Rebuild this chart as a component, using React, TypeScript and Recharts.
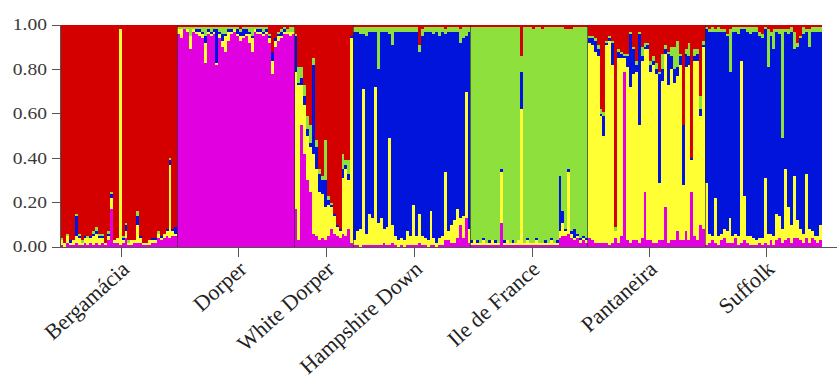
import React from 'react';
import { BarChart, Bar, XAxis, YAxis, ReferenceLine } from 'recharts';

const populations = ['Bergamácia', 'Dorper', 'White Dorper', 'Hampshire Down', 'Ile de France', 'Pantaneira', 'Suffolk'];
const clusterKeys = ['magenta', 'yellow', 'blue', 'green', 'red'];
const clusterColors = ['#E000E0', '#FFFF33', '#0014DC', '#8EE03C', '#D40000'];
const yTicks = [0, 0.2, 0.4, 0.6, 0.8, 1];

// each individual: [magenta, yellow, blue, green, red] in %
const bergamacia = [
  [1, 2, 0, 1, 96], [0, 2, 0, 0, 98], [2, 3, 0, 1, 94], [1, 1, 1, 0, 97], [1, 2, 0, 0, 97],
  [2, 3, 9, 1, 85], [1, 3, 1, 1, 94], [1, 1, 0, 1, 97], [2, 2, 1, 0, 95], [1, 3, 0, 1, 95],
  [2, 2, 1, 0, 95], [1, 4, 1, 1, 93], [2, 4, 1, 2, 91], [1, 3, 1, 1, 94], [2, 2, 1, 1, 94],
  [1, 1, 0, 0, 98], [3, 2, 1, 1, 93], [17, 5, 2, 1, 75], [2, 1, 0, 0, 97], [2, 2, 0, 0, 96],
  [1, 97, 0, 0, 2], [2, 1, 1, 1, 95], [4, 3, 3, 1, 89], [1, 1, 0, 1, 97], [1, 2, 0, 0, 97],
  [2, 1, 0, 0, 97], [2, 8, 4, 2, 84], [2, 2, 1, 0, 95], [1, 1, 0, 0, 98], [1, 1, 0, 0, 98],
  [1, 2, 0, 0, 97], [2, 1, 1, 0, 96], [2, 1, 1, 0, 96], [4, 2, 0, 1, 93], [3, 1, 1, 0, 95],
  [4, 2, 0, 0, 94], [5, 2, 1, 0, 92], [4, 33, 2, 1, 60], [5, 2, 1, 0, 92], [5, 1, 3, 0, 91],
];

const dorper = [
  [96, 2, 0, 1, 1], [94, 4, 0, 1, 1], [98, 0, 0, 1, 1], [97, 1, 0, 1, 1], [89, 6, 0, 4, 1],
  [97, 1, 0, 1, 1], [96, 1, 1, 1, 1], [95, 2, 1, 1, 1], [94, 2, 1, 2, 1], [83, 9, 3, 4, 1],
  [96, 1, 1, 1, 1], [95, 1, 1, 2, 1], [96, 1, 1, 1, 1], [82, 1, 15, 1, 1], [94, 2, 1, 2, 1],
  [90, 3, 3, 3, 1], [88, 7, 1, 3, 1], [93, 4, 1, 1, 1], [96, 1, 1, 1, 1], [97, 1, 0, 1, 1],
  [95, 1, 2, 1, 1], [93, 2, 2, 1, 2], [94, 1, 3, 1, 1], [95, 1, 2, 1, 1], [92, 4, 1, 2, 1],
  [88, 6, 1, 4, 1], [97, 1, 0, 1, 1], [96, 1, 1, 1, 1], [96, 1, 1, 1, 1], [95, 1, 1, 2, 1],
  [96, 1, 1, 1, 1], [92, 2, 1, 1, 4], [78, 6, 4, 0, 12], [90, 3, 1, 0, 6], [93, 2, 1, 1, 3],
  [94, 1, 2, 1, 2], [96, 1, 1, 1, 1], [96, 1, 0, 1, 2], [95, 2, 0, 2, 1], [96, 1, 0, 2, 1],
];

const whiteDorper = [
  [17, 62, 16, 1, 4], [3, 70, 1, 7, 19], [55, 18, 3, 5, 19], [42, 22, 4, 5, 27], [30, 20, 3, 6, 41],
  [25, 20, 2, 8, 45], [6, 36, 40, 3, 15], [5, 30, 10, 3, 52], [3, 22, 8, 2, 65], [4, 20, 6, 2, 68],
  [3, 15, 12, 18, 52], [5, 14, 2, 2, 77], [8, 10, 1, 1, 80], [6, 8, 1, 0, 85], [5, 4, 1, 0, 90],
  [4, 3, 1, 0, 92], [6, 25, 4, 7, 58], [5, 30, 2, 2, 61], [8, 22, 3, 6, 61], [2, 92, 1, 0, 5],
];

const hampshireDown = [
  [1, 2, 94, 2, 1], [1, 6, 90, 2, 1], [0, 8, 88, 3, 1], [1, 70, 25, 3, 1], [1, 5, 89, 4, 1],
  [1, 14, 82, 2, 1], [1, 12, 84, 2, 1], [1, 71, 25, 2, 1], [1, 10, 69, 19, 1], [1, 12, 84, 2, 1],
  [2, 6, 89, 2, 1], [1, 8, 88, 2, 1], [1, 48, 47, 3, 1], [2, 8, 81, 8, 1], [1, 4, 92, 2, 1],
  [0, 3, 94, 2, 1], [1, 3, 93, 2, 1], [0, 3, 94, 2, 1], [1, 6, 90, 2, 1], [1, 4, 92, 2, 1],
  [1, 18, 78, 2, 1], [1, 4, 92, 2, 1], [2, 13, 73, 3, 9], [1, 4, 90, 3, 2], [1, 3, 93, 2, 1],
  [0, 3, 94, 2, 1], [1, 15, 81, 2, 1], [1, 3, 92, 3, 1], [0, 2, 95, 2, 1], [1, 3, 91, 4, 1],
  [1, 4, 92, 2, 1], [3, 31, 62, 2, 2], [3, 4, 90, 2, 1], [2, 8, 87, 2, 1], [2, 10, 85, 2, 1],
  [4, 13, 80, 2, 1], [10, 3, 79, 6, 2], [4, 10, 80, 5, 1], [13, 57, 25, 4, 1], [2, 6, 89, 2, 1],
];

const ileDeFrance = [
  [1, 1, 1, 96, 1], [1, 2, 0, 96, 1], [1, 1, 1, 96, 1], [1, 1, 0, 97, 1], [1, 2, 1, 95, 1],
  [1, 1, 0, 97, 1], [1, 1, 1, 96, 1], [1, 2, 0, 96, 1], [1, 1, 1, 96, 1], [1, 1, 0, 97, 1],
  [11, 23, 1, 64, 1], [1, 1, 1, 96, 1], [1, 2, 0, 96, 1], [1, 1, 0, 97, 1], [1, 1, 1, 96, 1],
  [1, 1, 0, 97, 1], [1, 2, 0, 96, 1], [1, 61, 17, 7, 14], [1, 1, 0, 97, 1], [1, 2, 1, 95, 1],
  [1, 1, 0, 97, 1], [1, 1, 0, 96, 2], [1, 2, 1, 95, 1], [1, 1, 0, 97, 1], [1, 1, 0, 96, 2],
  [1, 1, 1, 96, 1], [1, 1, 0, 97, 1], [1, 2, 1, 95, 1], [1, 1, 0, 97, 1], [1, 1, 1, 96, 1],
  [4, 3, 25, 67, 1], [5, 6, 5, 83, 1], [5, 2, 1, 90, 2], [6, 28, 1, 63, 2], [4, 2, 1, 91, 2],
  [3, 1, 4, 91, 1], [4, 1, 1, 93, 1], [2, 1, 1, 95, 1], [3, 1, 1, 94, 1], [2, 1, 1, 95, 1],
];

const pantaneira = [
  [4, 88, 2, 1, 5], [3, 88, 3, 1, 5], [2, 86, 5, 1, 6], [2, 84, 3, 2, 9], [2, 57, 1, 2, 38],
  [2, 48, 9, 2, 39], [2, 89, 1, 1, 7], [1, 92, 1, 1, 5], [2, 80, 10, 1, 7], [4, 3, 0, 2, 91],
  [2, 83, 3, 1, 11], [5, 80, 2, 1, 12], [79, 6, 1, 1, 13], [3, 78, 5, 1, 13], [2, 70, 24, 1, 3],
  [3, 75, 11, 1, 10], [3, 76, 3, 2, 16], [2, 53, 41, 1, 3], [4, 80, 2, 4, 10], [25, 64, 1, 2, 8],
  [3, 86, 2, 1, 8], [3, 76, 3, 2, 16], [2, 80, 2, 2, 14], [2, 76, 2, 3, 17], [3, 26, 49, 1, 21],
  [3, 72, 5, 7, 13], [18, 69, 2, 2, 9], [2, 71, 14, 1, 12], [3, 77, 6, 4, 10], [3, 71, 6, 10, 10],
  [7, 70, 4, 12, 7], [3, 79, 4, 1, 13], [3, 25, 27, 0, 45], [7, 74, 6, 2, 11], [3, 79, 4, 6, 8],
  [25, 14, 1, 0, 60], [5, 79, 2, 3, 11], [3, 81, 3, 2, 11], [10, 49, 3, 6, 32], [8, 82, 1, 2, 7],
];

const suffolk = [
  [1, 28, 69, 1, 1], [2, 4, 91, 1, 2], [3, 2, 92, 2, 1], [2, 20, 75, 1, 2], [1, 4, 92, 2, 1],
  [3, 3, 91, 1, 2], [4, 4, 89, 1, 2], [2, 5, 88, 1, 4], [2, 11, 66, 19, 2], [2, 3, 92, 2, 1],
  [4, 2, 91, 2, 1], [1, 4, 91, 3, 1], [2, 82, 14, 1, 1], [3, 20, 75, 1, 1], [2, 3, 92, 2, 1],
  [1, 4, 91, 3, 1], [1, 3, 93, 2, 1], [1, 2, 94, 2, 1], [2, 2, 91, 2, 3], [1, 3, 90, 2, 4],
  [2, 29, 67, 1, 1], [1, 5, 75, 17, 2], [3, 3, 89, 2, 3], [1, 4, 84, 9, 2], [3, 12, 82, 1, 2],
  [4, 10, 82, 2, 2], [2, 6, 41, 49, 2], [3, 32, 62, 1, 2], [4, 14, 78, 2, 2], [2, 8, 87, 2, 1],
  [4, 28, 57, 8, 3], [4, 8, 78, 2, 8], [3, 5, 86, 1, 5], [2, 4, 90, 3, 1], [4, 29, 64, 1, 2],
  [2, 6, 82, 8, 2], [4, 3, 90, 2, 1], [3, 2, 92, 2, 1], [2, 3, 92, 2, 1], [3, 7, 87, 2, 1],
];

const popData = [bergamacia, dorper, whiteDorper, hampshireDown, ileDeFrance, pantaneira, suffolk];

const rows: any[] = [];
const boundaries: number[] = [];
const tickPos: number[] = [];
let pos = 0;
popData.forEach((pop, p) => {
  tickPos.push(pos + pop.length / 2 + 1);
  pop.forEach((v) => {
    const s = v.reduce((a, b) => a + b, 0);
    const row: any = { x: pos + 0.5 };
    clusterKeys.forEach((k, j) => {
      row[k] = v[j] / s;
    });
    rows.push(row);
    pos += 1;
  });
  if (p < popData.length - 1) boundaries.push(pos);
});
const domainMax = pos + 5;

const YTick = (props: any) => {
  const { x, y, payload } = props;
  return (
    <text
      transform={`translate(${x},${y}) scale(1.22,1)`}
      textAnchor="end"
      dominantBaseline="central"
      fontFamily="'Liberation Serif', 'Times New Roman', serif"
      fontSize={16}
      fill="#3a3a3a"
    >
      {Number(payload.value).toFixed(2)}
    </text>
  );
};

const XTick = (props: any) => {
  const { x, y, payload } = props;
  const idx = tickPos.findIndex((t) => Math.abs(t - payload.value) < 0.01);
  return (
    <text
      transform={`translate(${x + 9},${y + 14}) rotate(-42)`}
      textAnchor="end"
      fontFamily="'Liberation Serif', 'Times New Roman', serif"
      fontSize={22}
      fill="#222"
    >
      {idx >= 0 ? populations[idx] : ''}
    </text>
  );
};

export default function App() {
  return (
    <div style={{ position: 'absolute', left: 0, top: 0, background: '#fff' }}>
      <BarChart
        width={837}
        height={382}
        data={rows}
        margin={{ top: 25, right: 0, left: 0, bottom: 75 }}
        barCategoryGap={0}
        barGap={0}
        style={{ shapeRendering: 'crispEdges' }}
      >
        <XAxis
          type="number"
          dataKey="x"
          domain={[0, domainMax]}
          ticks={tickPos}
          interval={0}
          tickSize={10}
          tickMargin={0}
          height={60}
          allowDataOverflow
          axisLine={{ stroke: '#555' }}
          tickLine={{ stroke: '#555' }}
          tick={XTick}
        />
        <YAxis
          type="number"
          domain={[0, 1]}
          ticks={yTicks}
          interval={0}
          tickSize={8}
          tickMargin={5}
          width={60}
          allowDataOverflow
          axisLine={{ stroke: '#555' }}
          tickLine={{ stroke: '#555' }}
          tick={YTick}
        />
        {clusterKeys.map((k, j) => (
          <Bar key={k} dataKey={k} stackId="s" fill={clusterColors[j]} isAnimationActive={false} />
        ))}
        {boundaries.map((b) => (
          <ReferenceLine key={b} x={b} stroke="#222" strokeOpacity={0.6} strokeWidth={1} />
        ))}
      </BarChart>
    </div>
  );
}
